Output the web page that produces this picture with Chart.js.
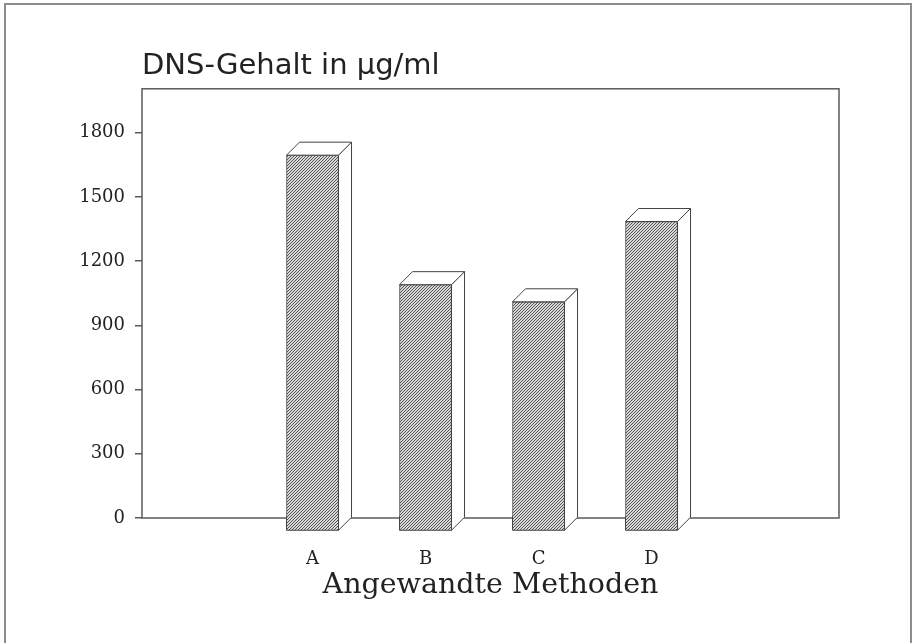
<!DOCTYPE html>
<html>
<head>
<meta charset="utf-8">
<script src="https://cdn.jsdelivr.net/npm/chart.js@4/dist/chart.umd.min.js"></script>
<style>
  html, body { margin: 0; padding: 0; background: #fff; }
  #wrap { position: relative; width: 914px; height: 643px; overflow: hidden; }
  #frame { position: absolute; left: 4px; top: 3px; width: 904px; height: 700px; border: 2px solid #8c8c8c; }
  #chart { position: absolute; left: 0; top: 0; }
</style>
</head>
<body>
<div id="wrap">
  <div id="frame"></div>
  <canvas id="chart" width="914" height="643"></canvas>
</div>
<script>
// data
const categories = ['A', 'B', 'C', 'D'];
const dnaValues = [1695, 1090, 1010, 1385];
const yTickValues = [0, 300, 600, 900, 1200, 1500, 1800];

const ink = '#222';
const edge = '#444';
const axisColor = '#5a5a5a';
const depth = 13;

// diagonal hatch used for the bar fronts
function hatch() {
  const c = document.createElement('canvas');
  c.width = 3; c.height = 3;
  const g = c.getContext('2d');
  g.fillStyle = '#d8d8d8';
  g.fillRect(0, 0, 3, 3);
  g.strokeStyle = '#555';
  g.lineWidth = 1;
  g.beginPath();
  g.moveTo(0, 3); g.lineTo(3, 0);
  g.moveTo(-1, 1); g.lineTo(1, -1);
  g.moveTo(2, 4); g.lineTo(4, 2);
  g.stroke();
  return g.createPattern(c, 'repeat');
}
const pattern = hatch();

// box around the plot area
const frame = {
  id: 'frame',
  beforeDatasetsDraw(chart) {
    const { ctx, chartArea: a } = chart;
    ctx.save();
    ctx.strokeStyle = axisColor;
    ctx.lineWidth = 1.5;
    ctx.strokeRect(a.left, a.top, a.right - a.left, a.bottom - a.top);
    ctx.restore();
  }
};

// top + side faces, and the part of the front that hangs below zero
const bar3d = {
  id: 'bar3d',
  afterDatasetsDraw(chart) {
    const ctx = chart.ctx;
    chart.getDatasetMeta(0).data.forEach((bar) => {
      const p = bar.getProps(['x', 'y', 'width', 'base'], true);
      const l = p.x - p.width / 2, r = p.x + p.width / 2, t = p.y, b = p.base;
      ctx.save();
      ctx.strokeStyle = edge;
      ctx.lineWidth = 1;
      ctx.fillStyle = pattern;
      ctx.fillRect(l, b - 1, r - l, depth + 1);
      ctx.beginPath();
      ctx.moveTo(l, b - 1); ctx.lineTo(l, b + depth); ctx.lineTo(r, b + depth); ctx.lineTo(r, b - 1);
      ctx.stroke();
      ctx.fillStyle = '#fff';
      ctx.beginPath();
      ctx.moveTo(r, t); ctx.lineTo(r + depth, t - depth); ctx.lineTo(r + depth, b); ctx.lineTo(r, b + depth);
      ctx.closePath(); ctx.fill(); ctx.stroke();
      ctx.beginPath();
      ctx.moveTo(l, t); ctx.lineTo(l + depth, t - depth); ctx.lineTo(r + depth, t - depth); ctx.lineTo(r, t);
      ctx.closePath(); ctx.fill(); ctx.stroke();
      ctx.restore();
    });
  }
};

new Chart(document.getElementById('chart'), {
  type: 'bar',
  data: {
    datasets: [{
      data: dnaValues.map((v, i) => ({ x: i + 1, y: v })),
      backgroundColor: pattern,
      borderColor: edge,
      borderWidth: 1,
      barThickness: 52
    }]
  },
  options: {
    responsive: false,
    animation: false,
    layout: { padding: { left: 0, right: 75, top: 0, bottom: 30 } },
    plugins: {
      legend: { display: false },
      tooltip: { enabled: false },
      title: {
        display: true,
        text: 'DNS-Gehalt in µg/ml',
        align: 'start',
        fullSize: false,
        color: ink,
        font: { family: 'DejaVu Sans', size: 29, weight: 'normal' },
        padding: { top: 49, bottom: 5 }
      }
    },
    scales: {
      x: {
        type: 'linear',
        offset: false,
        min: -0.509,
        max: 5.659,
        grid: { display: false },
        border: { display: false },
        afterBuildTicks: (s) => { s.ticks = categories.map((c, i) => ({ value: i + 1 })); },
        afterFit: (s) => { s.height = 95; },
        ticks: {
          callback: (v) => categories[v - 1] ?? '',
          padding: 23,
          color: ink,
          font: { family: 'DejaVu Serif', size: 18 }
        },
        title: {
          display: true,
          text: 'Angewandte Methoden',
          color: ink,
          font: { family: 'DejaVu Serif', size: 28.5 },
          padding: { top: 0, bottom: 10 }
        }
      },
      y: {
        min: 0,
        max: 2005,
        afterBuildTicks: (s) => { s.ticks = yTickValues.map((v) => ({ value: v })); },
        afterFit: (s) => { s.width = 142; },
        grid: { drawOnChartArea: false, tickLength: 7, color: axisColor, lineWidth: 1.5 },
        border: { display: false },
        ticks: {
          callback: (v) => String(v),
          padding: 10,
          color: ink,
          font: { family: 'DejaVu Serif', size: 18 }
        }
      }
    }
  },
  plugins: [frame, bar3d]
});
</script>
</body>
</html>
